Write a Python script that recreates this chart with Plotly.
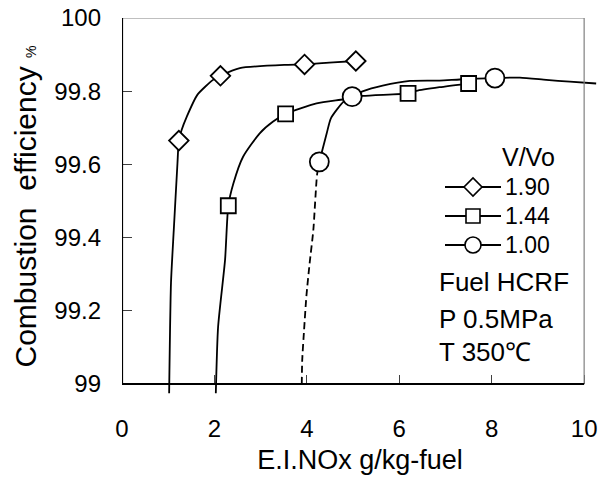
import plotly.graph_objects as go

# ---- data ----
x_ticks = [0, 2, 4, 6, 8, 10]
x_ticklabels = ["0", "2", "4", "6", "8", "10"]
y_ticks = [99.0, 99.2, 99.4, 99.6, 99.8, 100.0]
y_ticklabels = ["99", "99.2", "99.4", "99.6", "99.8", "100"]

series_names = ["1.90", "1.44", "1.00"]

# measured points (markers)
m190_x = [1.23, 2.13, 3.95, 5.06]
m190_y = [99.665, 99.842, 99.873, 99.8825]
m144_x = [2.30, 3.54, 6.19, 7.50]
m144_y = [99.487, 99.738, 99.794, 99.821]
m100_x = [4.27, 4.98, 8.07]
m100_y = [99.607, 99.785, 99.836]

# hand-drawn fitted curves
c190_x = [1.02, 1.06, 1.12, 1.20, 1.23, 1.29, 1.40, 1.63, 1.97, 2.13, 2.55, 3.56, 3.95, 4.57, 5.06]
c190_y = [98.975, 99.276, 99.42, 99.603, 99.665, 99.694, 99.73, 99.79, 99.831, 99.842, 99.863, 99.872, 99.873, 99.879, 99.8825]
c144_x = [2.03, 2.08, 2.23, 2.30, 2.41, 2.62, 2.98, 3.27, 3.54, 4.21, 4.79, 5.21, 6.19, 6.37, 6.87, 7.50]
c144_y = [98.975, 99.157, 99.339, 99.487, 99.548, 99.621, 99.685, 99.717, 99.738, 99.767, 99.778, 99.787, 99.794, 99.801, 99.811, 99.821]
c100_x = [4.27, 4.43, 4.52, 4.79, 4.98, 5.22, 5.64, 6.23, 6.87, 7.31, 8.07, 8.61, 9.18, 9.69, 10.26]
c100_y = [99.607, 99.685, 99.726, 99.771, 99.785, 99.80, 99.815, 99.828, 99.829, 99.832, 99.836, 99.837, 99.831, 99.826, 99.821]
c100_dash_x = [3.89, 3.90, 3.94, 3.99, 4.06, 4.14, 4.22, 4.27]
c100_dash_y = [99.0, 99.066, 99.148, 99.24, 99.33, 99.42, 99.571, 99.607]

legend_title = "V/Vo"
condition_lines = ["Fuel HCRF", "P 0.5MPa", "T 350℃"]

FONT = "Liberation Sans, Arial, sans-serif"
LW = 1.8
ML, MR, MT, MB = 122, 4, 18, 89
W, H = 602, 484
PW, PH = W - ML - MR, H - MT - MB


def px(xp):
    return (xp - ML) / PW


def py(yp):
    return (H - MB - yp) / PH


fig = go.Figure()


def curve(x, y, dash="solid"):
    fig.add_trace(go.Scatter(x=x, y=y, mode="lines", showlegend=False, hoverinfo="skip",
                             line=dict(color="black", width=LW, shape="spline", smoothing=0.6, dash=dash)))


curve(c190_x, c190_y)
curve(c144_x, c144_y)
curve(c100_x, c100_y)
curve(c100_dash_x, c100_dash_y, dash="7px,4px")

marker_specs = [
    (m190_x, m190_y, "diamond", 15),
    (m144_x, m144_y, "square", 15),
    (m100_x, m100_y, "circle", 19),
]
for (mx, my, sym, sz), name in zip(marker_specs, series_names):
    fig.add_trace(go.Scatter(x=mx, y=my, mode="markers", showlegend=False, name=name,
                             marker=dict(symbol=sym, size=sz, color="white",
                                         line=dict(color="black", width=1.8))))

shapes = [
    dict(type="line", xref="x", yref="y", x0=0, x1=10, y0=100, y1=100, line=dict(color="#808080", width=1.2)),
    dict(type="line", xref="x", yref="y", x0=10, x1=10, y0=99, y1=100, line=dict(color="#808080", width=1.2)),
    dict(type="line", xref="x", yref="y", x0=0, x1=0, y0=99, y1=100, line=dict(color="black", width=2.2)),
    dict(type="line", xref="x", yref="y", x0=0, x1=10, y0=99, y1=99, line=dict(color="black", width=2.2)),
]

annotations = []

# manual legend (key): line + symbol + label
legend_rows = [187, 216, 245]
annotations.append(dict(text=legend_title, xref="paper", yref="paper", x=px(528), y=py(157),
                        xanchor="center", yanchor="middle", showarrow=False,
                        font=dict(family=FONT, size=25, color="black")))
sym_paths = {
    "diamond": "M-9,0 L0,-9 L9,0 L0,9 Z",
    "square": "M-7,-7 L7,-7 L7,7 L-7,7 Z",
}
for (mx, my, sym, sz), name, yr in zip(marker_specs, series_names, legend_rows):
    shapes.append(dict(type="line", xref="paper", yref="paper", x0=px(445), x1=px(501),
                       y0=py(yr), y1=py(yr), line=dict(color="black", width=LW)))
    if sym == "circle":
        shapes.append(dict(type="circle", xref="paper", yref="paper", xsizemode="pixel", ysizemode="pixel",
                           xanchor=px(473), yanchor=py(yr), x0=-8, x1=8, y0=-8, y1=8,
                           fillcolor="white", line=dict(color="black", width=1.6)))
    else:
        shapes.append(dict(type="path", xref="paper", yref="paper", xsizemode="pixel", ysizemode="pixel",
                           xanchor=px(473), yanchor=py(yr), path=sym_paths[sym],
                           fillcolor="white", line=dict(color="black", width=1.6)))
    annotations.append(dict(text=name, xref="paper", yref="paper", x=px(503), y=py(yr),
                            xanchor="left", yanchor="middle", showarrow=False,
                            font=dict(family=FONT, size=23, color="black")))

for txt, yp in zip(condition_lines, [282, 319, 352]):
    annotations.append(dict(text=txt, xref="paper", yref="paper", x=px(437),
                            y=py(yp), xanchor="left", yanchor="middle", showarrow=False,
                            font=dict(family=FONT, size=26, color="black")))

Y0, Y1 = 98.97, 100.0
fig.update_layout(
    width=W, height=H,
    margin=dict(l=ML, r=MR, t=MT, b=MB),
    paper_bgcolor="white", plot_bgcolor="white",
    font=dict(family=FONT, size=24, color="black"),
    shapes=shapes,
    annotations=annotations,
    showlegend=False,
    xaxis=dict(range=[0, 10.3], anchor="free", position=(99 - Y0) / (Y1 - Y0),
               tickvals=x_ticks, ticktext=x_ticklabels, ticks="inside", ticklen=9,
               tickcolor="#404040", tickwidth=1, showline=False, showgrid=False, zeroline=False,
               ticklabelstandoff=28, tickfont=dict(size=24),
               title=dict(text="E.I.NOx g/kg-fuel", font=dict(size=27), standoff=9)),
    yaxis=dict(range=[Y0, Y1], tickvals=y_ticks, ticktext=y_ticklabels, ticks="inside", ticklen=10,
               tickcolor="#404040", tickwidth=1, showline=False, showgrid=False, zeroline=False,
               ticklabelstandoff=20, tickfont=dict(size=24),
               title=dict(text="Combustion\u00a0 efficiency <span style='font-size:14px'>%</span>",
                          font=dict(size=30), standoff=8)),
)

fig.write_html("out.html")
